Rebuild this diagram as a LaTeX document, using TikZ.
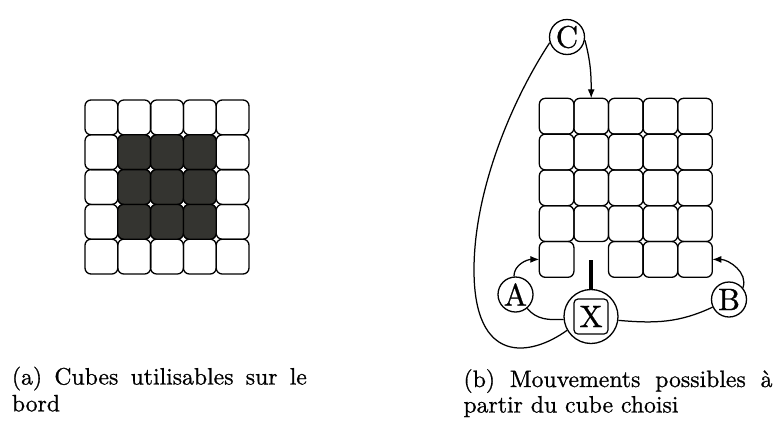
\documentclass[tikz,border=0pt]{standalone}
\usepackage{fontspec}
\newfontfamily\scanfont{lmroman10-regular.otf}[FakeBold=0.8]
\usetikzlibrary{arrows.meta}
\definecolor{cubedark}{RGB}{52,52,48}
\begin{document}
\begin{tikzpicture}[x=1pt,y=-1pt,
  lcell/.style={draw, line width=1.3pt, rounded corners=6pt, minimum width=32.8pt, minimum height=34.8pt, inner sep=0pt, outer sep=0pt},
  rcell/.style={draw, line width=1.3pt, rounded corners=6pt, minimum width=34.6pt, minimum height=35.8pt, inner sep=0pt, outer sep=0pt},
  dark/.style={fill=cubedark},
  circ/.style={draw, circle, line width=1.3pt, minimum size=35pt, inner sep=0pt, font=\scanfont\fontsize{31}{32}\selectfont},
  conn/.style={line width=1.25pt},
  tip/.style={-{Latex[length=9pt,width=7pt]}},
  captext/.style={inner sep=0pt, anchor=base west, font=\scanfont\fontsize{23.7}{28}\selectfont}
]
\useasboundingbox (0,0) rectangle (777,421);

% left grid
\foreach \i in {0,...,4}{
  \foreach \j in {0,...,4}{
    \node[lcell] (L-\i-\j) at ({85+32.8*(\i+0.5)},{100+34.8*(\j+0.5)}) {};
  }
}
\foreach \i in {1,2,3}{
  \foreach \j in {1,2,3}{
    \node[lcell,dark] (D-\i-\j) at ({85+32.8*(\i+0.5)},{100+34.8*(\j+0.5)}) {};
  }
}

% right grid
\foreach \i in {0,...,4}{
  \foreach \j in {0,...,3}{
    \node[rcell] (R-\i-\j) at ({539.3+34.6*(\i+0.5)},{98.3+35.8*(\j+0.5)}) {};
  }
}
\foreach \i in {0,2,3,4}{
  \node[rcell] (R-\i-4) at ({539.3+34.6*(\i+0.5)},{98.3+35.8*4.5}) {};
}

% circles
\node[circ] (C) at (567,37) {C};
\node[circ] (A) at (515.5,294.5) {A};
\node[circ] (B) at (729,299.5) {B};
\node[circ, minimum size=54pt] (X) at (591,316.5) {};
\node[draw, line width=1.2pt, rounded corners=4pt, minimum width=34pt, minimum height=35pt, inner sep=0pt, font=\scanfont\fontsize{31}{32}\selectfont] (Xb) at (X.center) {X};

% bar above X
\coordinate (bartop) at (591,260);
\draw[line width=3.3pt] (X.north) -- (bartop);

% connectors
\draw[conn,tip] (C.-10) to[out=-75, in=90] (R-1-0.north);
\draw[conn,tip] (A.95) to[out=90, in=180] (R-0-4.west);
\draw[conn,tip] (B.40) to[out=70, in=0] (R-4-4.east);
\draw[conn] (A.-50) to[out=-50, in=183] (X.186);
\draw[conn] (X.-8) to[out=-5, in=205] (B.205);
\coordinate (P) at (474,270);
\draw[conn] (C.198) .. controls (512,100) and (474,190) .. (P)
  .. controls (474,365) and (530,357) .. (X.210);

% captions
\node[captext] (capa1) at (11.7,384.5) {\makebox[295pt][s]{(a) Cubes utilisables sur le}};
\node[captext] (capa2) at (11.7,411.3) {bord};
\node[captext] (capb1) at (463.3,387) {\makebox[309pt][s]{(b) Mouvements possibles à}};
\node[captext] (capb2) at (463.3,412.5) {partir du cube choisi};
\end{tikzpicture}
\end{document}
